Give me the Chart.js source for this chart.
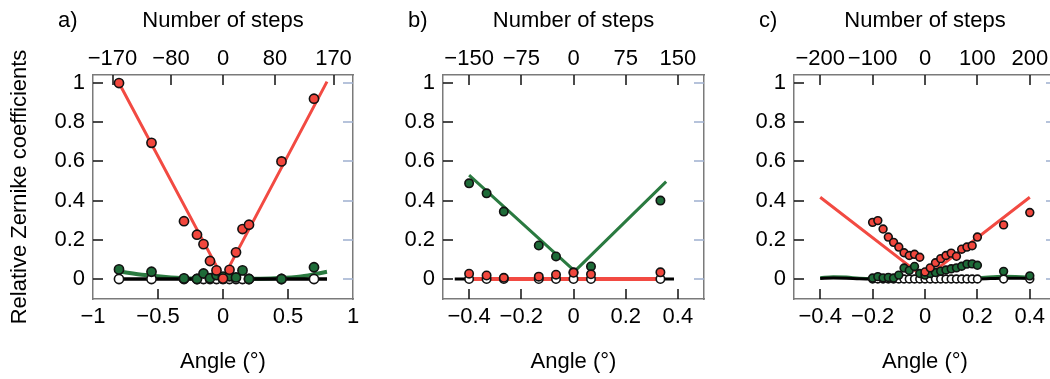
<!DOCTYPE html>
<html>
<head>
<meta charset="utf-8">
<script src="https://cdn.jsdelivr.net/npm/chart.js@4.4.1/dist/chart.umd.min.js"></script>
<style>
    html, body { margin: 0; padding: 0; background: #fff; overflow: hidden; width: 1050px; height: 379px; }
    canvas { position: absolute; top: 0; }
</style>
</head>
<body>
<canvas id="panelA" width="390" height="379" style="left:0px"></canvas>
<canvas id="panelB" width="395" height="379" style="left:345px"></canvas>
<canvas id="panelC" width="400" height="379" style="left:700px"></canvas>
<script>
/* ─────────────────────────────────────────────
   Data
───────────────────────────────────────────── */
const yTicks = [0, 0.2, 0.4, 0.6, 0.8, 1];

// a)
const angleA = [-0.8, -0.55, -0.3, -0.2, -0.15, -0.1, -0.05, 0, 0.05, 0.1, 0.15, 0.2, 0.45, 0.7];
const redA   = [1.0, 0.695, 0.295, 0.226, 0.178, 0.092, 0.044, 0.002, 0.047, 0.136, 0.255, 0.277, 0.6, 0.92];
const greenA = [0.049, 0.037, 0.003, 0.0, 0.028, 0.004, 0.02, 0.012, 0.014, 0.008, 0.044, 0.0, 0.0, 0.06];
const whiteA = [0, 0, 0, 0, 0, 0, 0, 0, 0, 0, 0, 0, 0, 0];
const redFitXA = [-0.8, 0, 0.8];
const redFitA  = [1.0, 0.003, 1.007];
const greenFitXA = [-0.8, -0.6, -0.4, -0.2, 0, 0.2, 0.4, 0.6, 0.8];
const greenFitA  = [0.038, 0.02, 0.008, 0.002, 0.0, 0.001, 0.004, 0.013, 0.037];
const blackFitXA = [-0.8, 0.8];
const blackFitA  = [0, 0];
const angleTicksA = [-1, -0.5, 0, 0.5, 1];
const stepTicksA = [-170, -80, 0, 80, 170];

// b)
const angleB = [-0.4, -0.333, -0.267, -0.133, -0.067, 0, 0.067, 0.333];
const greenB = [0.488, 0.437, 0.344, 0.171, 0.115, 0.034, 0.064, 0.4];
const redB   = [0.027, 0.018, 0.006, 0.012, 0.022, 0.032, 0.024, 0.034];
const whiteB = [0, 0, 0, 0, 0, 0, 0, 0];
const greenFitXB = [-0.4, 0.005, 0.355];
const greenFitB  = [0.53, 0.04, 0.497];
const redFitXB = [-0.4, 0.333];
const redFitB  = [0, 0];
const blackFitXB = [-0.455, 0.385];
const blackFitB  = [0, 0];
const angleTicksB = [-0.4, -0.2, 0, 0.2, 0.4];
const stepTicksB = [-150, -75, 0, 75, 150];

// c)
const angleC = [-0.2, -0.18, -0.16, -0.14, -0.12, -0.1, -0.08, -0.06, -0.04, -0.02, 0,
                0.02, 0.04, 0.06, 0.08, 0.1, 0.12, 0.14, 0.16, 0.18, 0.2, 0.3, 0.4];
const redC   = [0.289, 0.298, 0.255, 0.214, 0.187, 0.163, 0.134, 0.12, 0.126, 0.111, 0.036,
                0.057, 0.083, 0.104, 0.12, 0.132, 0.116, 0.152, 0.163, 0.17, 0.214, 0.276, 0.339];
const greenC = [0.005, 0.012, 0.006, 0.008, 0.005, 0.02, 0.056, 0.044, 0.064, 0.028, 0.02,
                0.028, 0.033, 0.04, 0.046, 0.052, 0.057, 0.065, 0.076, 0.077, 0.07, 0.039, 0.016];
const whiteC = [0, 0, 0, 0, 0, 0, 0, 0, 0, 0, 0, 0, 0, 0, 0, 0, 0, 0, 0, 0, 0, 0, 0];
const redFitXC = [-0.4, 0, 0.4];
const redFitC  = [0.417, 0.004, 0.417];
const lowFitXC = [-0.4, -0.35, -0.3, -0.25, -0.2, -0.1, 0, 0.1, 0.2, 0.3, 0.4];
const greenFitC = [0.006, 0.012, 0.01, 0.004, 0.002, 0.002, 0.003, 0.004, 0.006, 0.014, 0.01];
const blackFitC = [0.003, 0.005, 0.004, 0.001, 0, 0, 0, 0, 0, 0.004, 0.003];
const angleTicksC = [-0.4, -0.2, 0, 0.2, 0.4];
const stepTicksC = [-200, -100, 0, 100, 200];

/* ─────────────────────────────────────────────
   Style
───────────────────────────────────────────── */
const FONT = "'Liberation Sans', Arial, Helvetica, sans-serif";
Chart.defaults.font.family = FONT;
Chart.defaults.font.size = 22;
Chart.defaults.color = '#000';

const RED = '#f2473d';
const RED_LINE = '#f24a42';
const GREEN = '#1e6b38';
const GREEN_LINE = '#2a7a40';
const FRAME = '#7a7a7a';
const TICK = '#111';
const RIGHT_TICK = 'rgb(158,176,207)';
const TICK_LEN = 10;
const PLOT_TOP = 75, PLOT_BOTTOM = 299, H = 379;

/* ─────────────────────────────────────────────
   Helpers
───────────────────────────────────────────── */
function pts(xs, ys) { return xs.map((x, i) => ({ x, y: ys[i] })); }
function fmt(v) { return (v < 0 ? '\u2212' : '') + Math.abs(v); }
function fixTicks(values) { return scale => { scale.ticks = values.map(v => ({ value: v })); }; }
function setSize(prop, px) { return scale => { scale[prop] = px; }; }

function lineSet(xs, ys, color, width, order, smooth) {
    return {
        type: 'line', data: pts(xs, ys), borderColor: color, borderWidth: width,
        pointRadius: 0, fill: false, order,
        tension: smooth ? 0.4 : 0, cubicInterpolationMode: smooth ? 'monotone' : 'default'
    };
}
function dotSet(xs, ys, fill, r, order) {
    return {
        type: 'scatter', data: pts(xs, ys), showLine: false, order,
        pointRadius: r, pointBackgroundColor: fill, pointBorderColor: '#111', pointBorderWidth: 1.6,
        backgroundColor: fill, borderColor: '#111'
    };
}

// tick marks pointing into the plot, on all four sides
function drawInnerTicks(chart, p) {
    const { ctx, chartArea: a } = chart;
    const sides = [['x', p.angleTicks], ['x2', p.stepTicks], ['y', yTicks], ['y2', yTicks]];
    ctx.save();
    sides.forEach(([id, values]) => {
        const s = chart.scales[id];
        ctx.fillStyle = id === 'y2' ? RIGHT_TICK : TICK;
        values.forEach(v => {
            if (v <= s.min + 1e-9 || v >= s.max - 1e-9) return;
            const px = Math.round(s.getPixelForValue(v));
            if (id === 'x') ctx.fillRect(px - 0.75, a.bottom - TICK_LEN, 1.5, TICK_LEN);
            else if (id === 'x2') ctx.fillRect(px - 0.75, a.top, 1.5, TICK_LEN);
            else if (id === 'y') ctx.fillRect(a.left, px - 0.75, TICK_LEN, 1.5);
            else ctx.fillRect(a.right - TICK_LEN, px - 0.75, TICK_LEN, 1.5);
        });
    });
    ctx.restore();
}

function drawLetter(chart, text) {
    const { ctx, chartArea } = chart;
    ctx.save();
    ctx.font = `22px ${FONT}`;
    ctx.fillStyle = '#000';
    ctx.textBaseline = 'middle';
    ctx.textAlign = 'left';
    ctx.fillText(text, chartArea.left - 35, 21);
    ctx.restore();
}

function makePanel(p) {
    const canvas = document.getElementById(p.id);
    const W = canvas.width;
    const noGrid = { display: false, drawTicks: false };
    const border = { display: true, color: FRAME, width: 1.5 };
    return new Chart(canvas, {
        type: 'scatter',
        data: { datasets: p.datasets },
        plugins: [{
            id: 'decor',
            afterDraw(chart) { drawInnerTicks(chart, p); drawLetter(chart, p.letter); }
        }],
        options: {
            responsive: false, animation: false, events: [],
            layout: { padding: 0 },
            plugins: { legend: { display: false }, tooltip: { enabled: false } },
            scales: {
                x: {
                    type: 'linear', position: 'bottom', min: p.xMin, max: p.xMax,
                    afterBuildTicks: fixTicks(p.angleTicks), afterFit: setSize('height', H - PLOT_BOTTOM),
                    grid: noGrid, border,
                    ticks: { padding: 5, autoSkip: false, maxRotation: 0, minRotation: 0, callback: fmt },
                    title: { display: true, text: 'Angle (°)', padding: { top: 0, bottom: 4 } }
                },
                x2: {
                    type: 'linear', position: 'top', min: p.xMin * p.stepsPerDeg, max: p.xMax * p.stepsPerDeg,
                    afterBuildTicks: fixTicks(p.stepTicks), afterFit: setSize('height', PLOT_TOP),
                    grid: noGrid, border,
                    ticks: { padding: 3, autoSkip: false, maxRotation: 0, minRotation: 0, callback: fmt },
                    title: { display: true, text: 'Number of steps', padding: { top: 8, bottom: 0 } }
                },
                y: {
                    type: 'linear', position: 'left', min: -0.102, max: 1.041,
                    afterBuildTicks: fixTicks(yTicks), afterFit: setSize('width', p.plotLeft - p.left),
                    grid: noGrid, border,
                    ticks: { padding: 8, callback: v => String(v) },
                    title: { display: !!p.yTitle, text: p.yTitle || '', padding: { top: 7, bottom: 0 } }
                },
                y2: {
                    type: 'linear', position: 'right', min: -0.102, max: 1.041,
                    afterBuildTicks: fixTicks(yTicks), afterFit: setSize('width', W - (p.plotRight - p.left)),
                    grid: noGrid, border,
                    ticks: { display: false }
                }
            }
        }
    });
}

/* ─────────────────────────────────────────────
   Panels
───────────────────────────────────────────── */
makePanel({
    id: 'panelA', letter: 'a)', left: 0, plotLeft: 93, plotRight: 353,
    xMin: -1, xMax: 1, stepsPerDeg: 200, angleTicks: angleTicksA, stepTicks: stepTicksA,
    yTitle: 'Relative Zernike coefficients',
    datasets: [
        dotSet(angleA, redA, RED, 4.6, 1),
        dotSet(angleA, greenA, GREEN, 4.6, 2),
        dotSet(angleA, whiteA, '#fff', 4.6, 3),
        lineSet(redFitXA, redFitA, RED_LINE, 3, 4),
        lineSet(blackFitXA, blackFitA, '#000', 3.5, 5),
        lineSet(greenFitXA, greenFitA, GREEN_LINE, 4, 6, true)
    ]
});

makePanel({
    id: 'panelB', letter: 'b)', left: 345, plotLeft: 443, plotRight: 704,
    xMin: -0.5, xMax: 0.5, stepsPerDeg: 375, angleTicks: angleTicksB, stepTicks: stepTicksB,
    datasets: [
        dotSet(angleB, redB, RED, 4.2, 1),
        dotSet(angleB, greenB, GREEN, 4.2, 2),
        dotSet(angleB, whiteB, '#fff', 4.2, 3),
        lineSet(greenFitXB, greenFitB, GREEN_LINE, 3, 4),
        lineSet(redFitXB, redFitB, RED_LINE, 4, 5),
        lineSet(blackFitXB, blackFitB, '#000', 3, 6)
    ]
});

makePanel({
    id: 'panelC', letter: 'c)', left: 700, plotLeft: 794, plotRight: 1056,
    xMin: -0.5, xMax: 0.5, stepsPerDeg: 500, angleTicks: angleTicksC, stepTicks: stepTicksC,
    datasets: [
        dotSet(angleC, redC, RED, 3.9, 1),
        dotSet(angleC, greenC, GREEN, 3.9, 2),
        dotSet(angleC, whiteC, '#fff', 3.9, 3),
        lineSet(redFitXC, redFitC, RED_LINE, 3, 4),
        lineSet(lowFitXC, blackFitC, '#000', 3, 5, true),
        lineSet(lowFitXC, greenFitC, GREEN_LINE, 3, 6, true)
    ]
});
</script>
</body>
</html>
